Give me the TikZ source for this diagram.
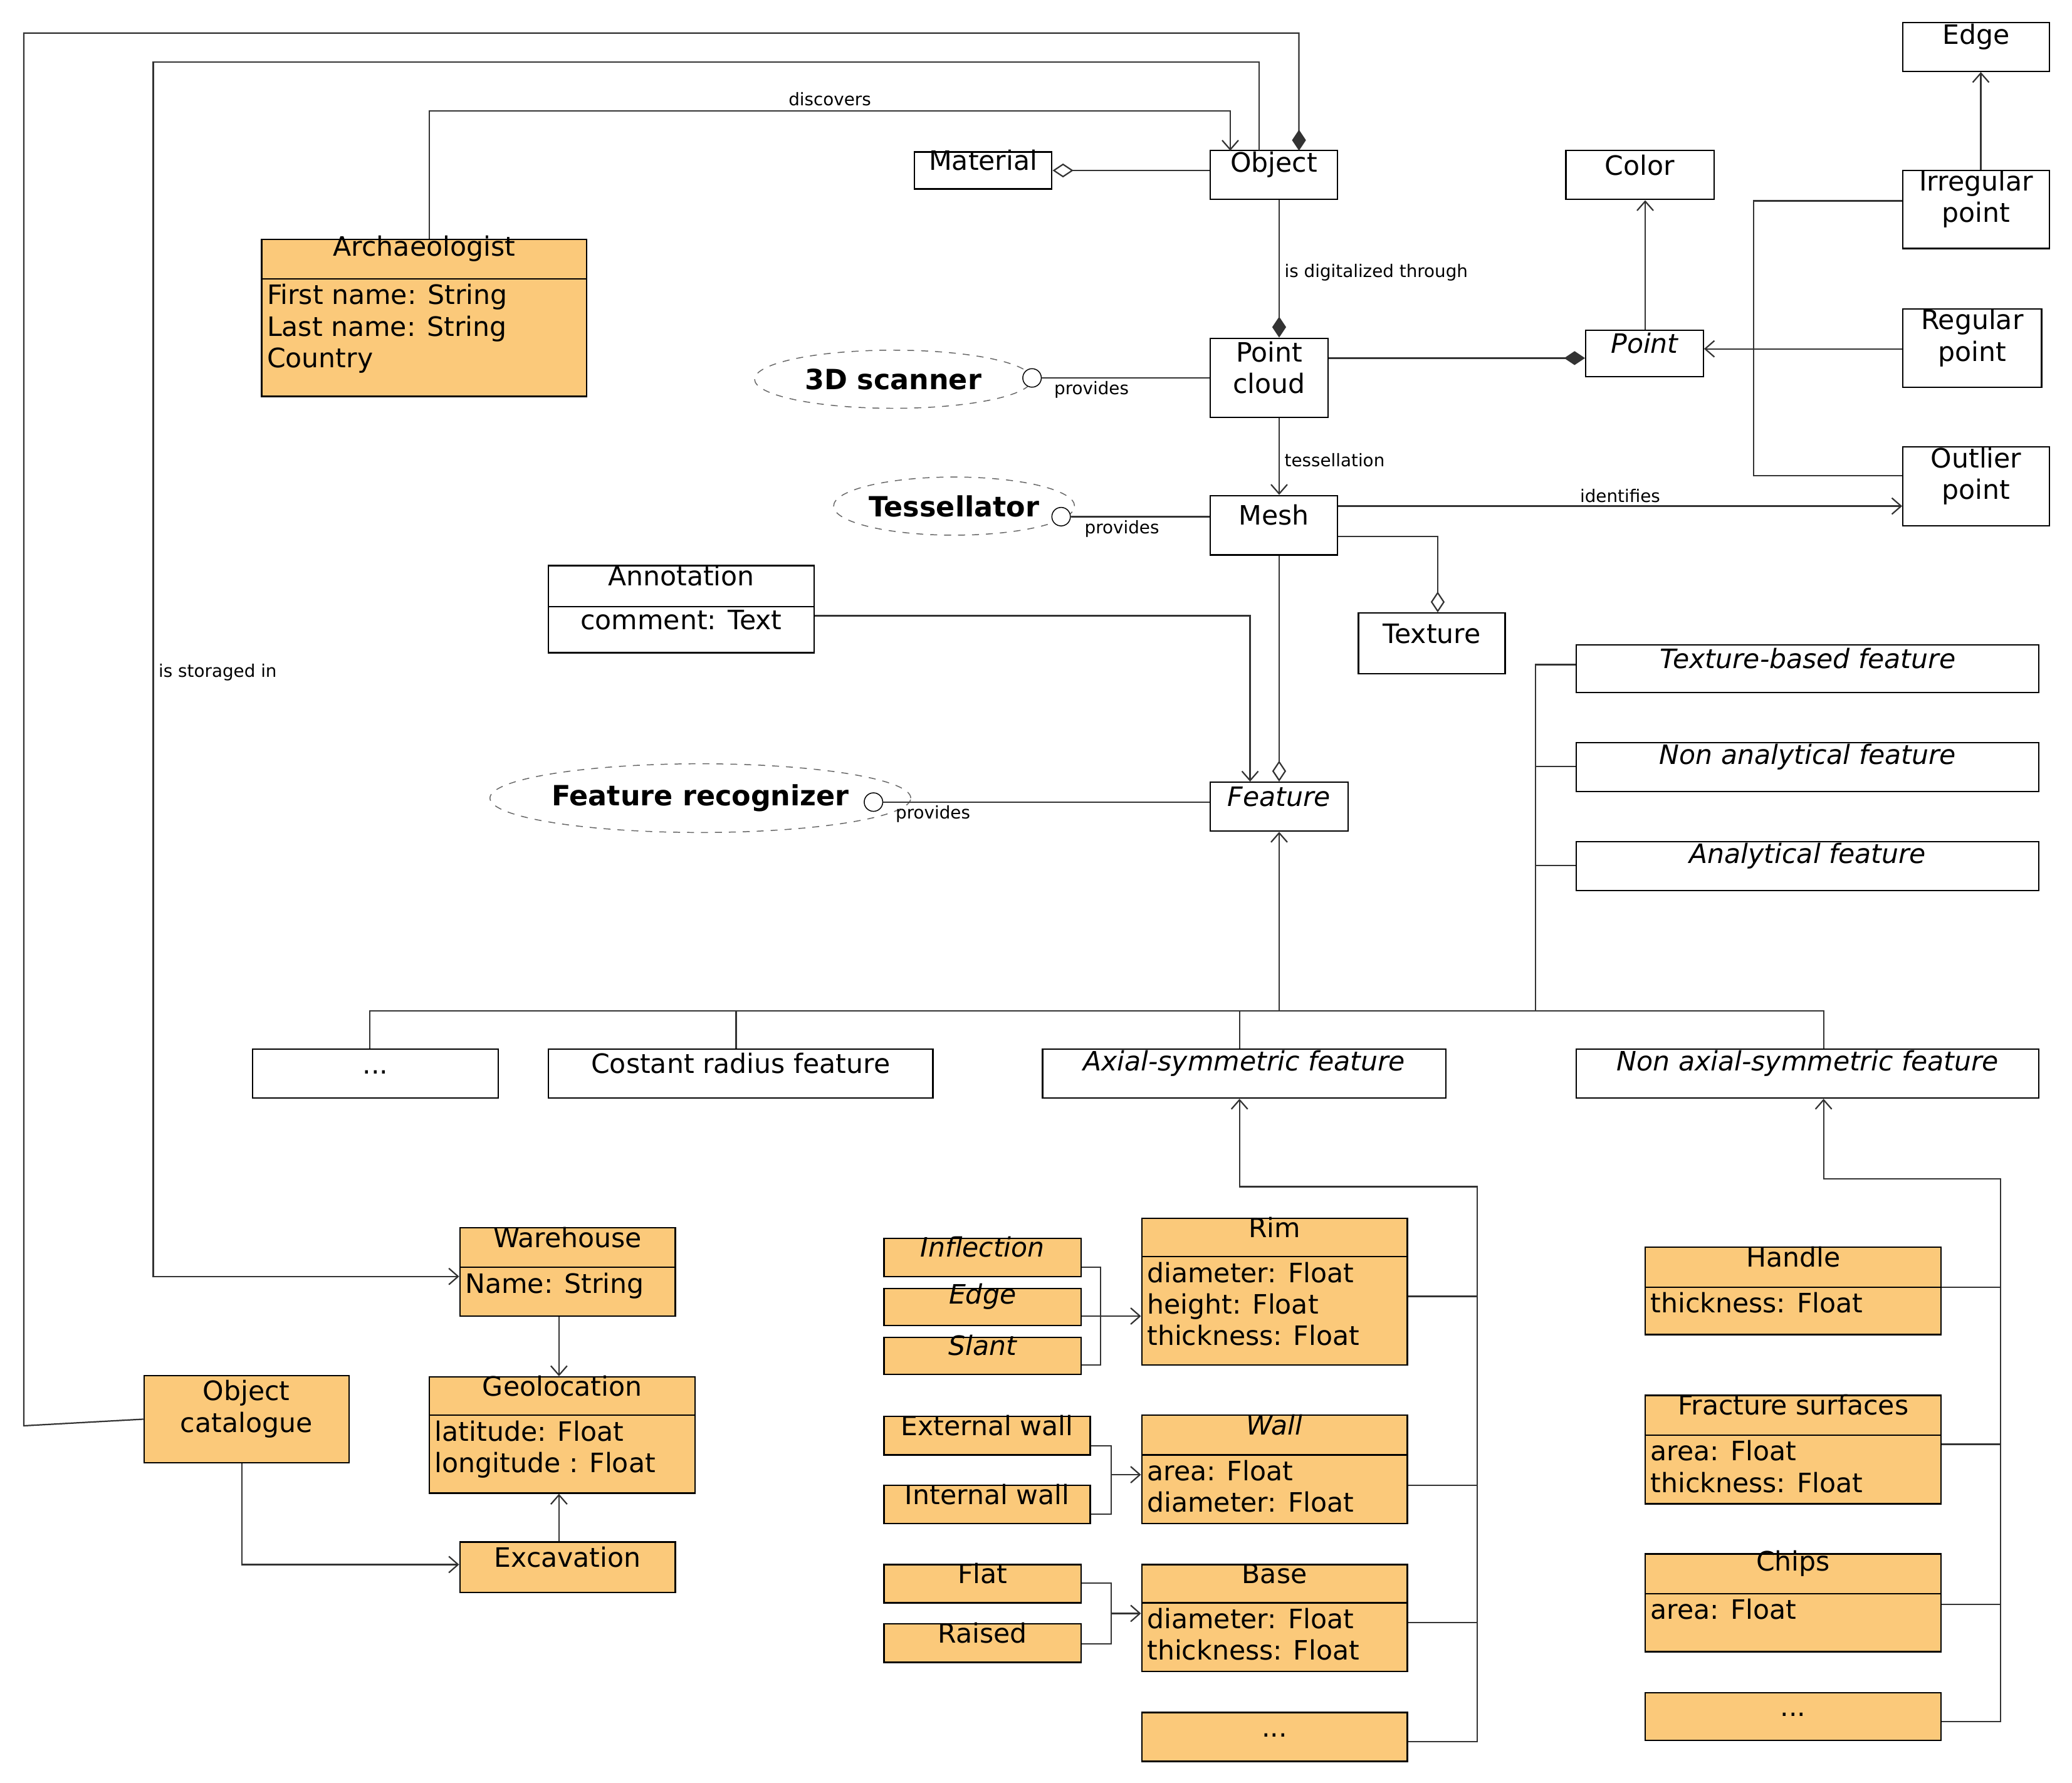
\documentclass[tikz,border=0pt]{standalone}
\usepackage{fontspec}
\setmainfont{DejaVu Sans}
\usetikzlibrary{fit,arrows.meta,calc,shapes.geometric}
\definecolor{org}{RGB}{251,201,122}
\begin{document}
\begin{tikzpicture}[x=0.02cm,y=-0.02cm,
  every node/.style={font=\fontsize{11.5}{13.6}\selectfont},
  b/.style={draw,inner sep=0pt,line width=0.6pt},
  o/.style={b,fill=org},
  body/.style={anchor=north west,align=left,inner sep=1pt},
  lab/.style={font=\fontsize{7.5}{9}\selectfont,inner sep=1pt},
  ln/.style={line width=0.6pt,draw=black!80},
  ar/.style={ln,-{Straight Barb[length=4pt,width=7pt]}},
  fd/.style={ln,-{Diamond[length=9pt,width=6pt]}},
  od/.style={ln,-{Diamond[open,length=9pt,width=6pt]}},
  ell/.style={ellipse,draw,dashed,draw=black!60,inner sep=0pt,font=\fontsize{12}{14}\selectfont\bfseries},
  lol/.style={circle,draw,inner sep=0pt,minimum size=0.28cm,fill=white}
]
\useasboundingbox (0,0) rectangle (1568,1349);
% top
\node[b,fit={(916,114)(1012,151)}] (obj) {Object};
\node[b,fit={(692,115)(796,143)}] (mat) {Material};
\node[b,fit={(1440,17)(1551,54)}] (edge) {Edge};
\node[b,fit={(1185,114)(1297,151)}] (col) {Color};
\node[b,fit={(1440,129)(1551,188)},align=center] (irr) {Irregular\\point};
\node[b,fit={(1440,234)(1545,293)},align=center] (reg) {Regular\\point};
\node[b,fit={(1440,338)(1551,398)},align=center] (out) {Outlier\\point};
\node[b,fit={(1200,250)(1289,285)},font=\fontsize{11.5}{13.6}\selectfont\itshape] (pt) {Point};
\node[b,fit={(916,256)(1005,316)},align=center] (pc) {Point\\cloud};
\node[b,fit={(916,375)(1012,420)}] (mesh) {Mesh};
\node[b,fit={(1028,464)(1139,510)}] (tex) {Texture};
\node[b,fit={(916,592)(1020,629)},font=\fontsize{11.5}{13.6}\selectfont\itshape] (feat) {Feature};
\node[b,fit={(415,428)(616,459)}] (ann) {Annotation};
\node[b,fit={(415,459)(616,494)}] (annb) {comment: Text};
\begin{scope}[every node/.append style={font=\fontsize{11.5}{13.6}\selectfont\itshape}]
\node[b,fit={(1193,488)(1543,524)}] (tbf) {Texture-based feature};
\node[b,fit={(1193,562)(1543,599)}] (naf) {Non analytical feature};
\node[b,fit={(1193,637)(1543,674)}] (af) {Analytical feature};
\node[b,fit={(789,794)(1094,831)}] (axf) {Axial-symmetric feature};
\node[b,fit={(1193,794)(1543,831)}] (naxf) {Non axial-symmetric feature};
\end{scope}
\node[b,fit={(191,794)(377,831)}] (dots1) {...};
\node[b,fit={(415,794)(706,831)}] (crf) {Costant radius feature};
% ellipses
\node[ell,minimum width=4.2cm,minimum height=0.88cm] (scan) at (676,287) {3D scanner};
\node[ell,minimum width=3.3cm,minimum height=0.88cm] (tess) at (722,383) {Tessellator};
\node[ell,minimum width=5.2cm,minimum height=1.04cm] (frec) at (530,604) {Feature recognizer};
% archaeologist
\node[o,fit={(198,181)(444,211)}] (arch) {Archaeologist};
\node[o,fit={(198,211)(444,300)}] (archb) {};
\node[body] at (200,213) {First name: String\\Last name: String\\Country};
% bottom left
\node[o,fit={(348,929)(511,959)}] (wh) {Warehouse};
\node[o,fit={(348,959)(511,996)}] (whb) {};
\node[body] at (350,961) {Name: String};
\node[o,fit={(109,1041)(264,1107)},align=center] (cat) {Object\\catalogue};
\node[o,fit={(325,1042)(526,1071)}] (geo) {Geolocation};
\node[o,fit={(325,1071)(526,1130)}] (geob) {};
\node[body] at (327,1073) {latitude: Float\\longitude : Float};
\node[o,fit={(348,1167)(511,1205)}] (exc) {Excavation};
% middle bottom
\begin{scope}[every node/.append style={font=\fontsize{11.5}{13.6}\selectfont\itshape}]
\node[o,fit={(669,937)(818,966)}] (infl) {Inflection};
\node[o,fit={(669,975)(818,1003)}] (edg) {Edge};
\node[o,fit={(669,1012)(818,1040)}] (sla) {Slant};
\node[o,fit={(864,1071)(1065,1101)}] (wall) {Wall};
\end{scope}
\node[o,fit={(864,922)(1065,951)}] (rim) {Rim};
\node[o,fit={(864,951)(1065,1033)}] (rimb) {};
\node[body] at (866,953) {diameter: Float\\height: Float\\thickness: Float};
\node[o,fit={(669,1072)(825,1101)}] (ext) {External wall};
\node[o,fit={(669,1124)(825,1153)}] (int) {Internal wall};
\node[o,fit={(864,1101)(1065,1153)}] (wallb) {};
\node[body] at (866,1103) {area: Float\\diameter: Float};
\node[o,fit={(669,1184)(818,1213)}] (flat) {Flat};
\node[o,fit={(669,1229)(818,1258)}] (rai) {Raised};
\node[o,fit={(864,1184)(1065,1213)}] (base) {Base};
\node[o,fit={(864,1213)(1065,1265)}] (baseb) {};
\node[body] at (866,1215) {diameter: Float\\thickness: Float};
\node[o,fit={(864,1296)(1065,1333)}] (dots2) {...};
% right bottom
\node[o,fit={(1245,944)(1469,974)}] (han) {Handle};
\node[o,fit={(1245,974)(1469,1010)}] (hanb) {};
\node[body] at (1247,976) {thickness: Float};
\node[o,fit={(1245,1056)(1469,1086)}] (fra) {Fracture surfaces};
\node[o,fit={(1245,1086)(1469,1138)}] (frab) {};
\node[body] at (1247,1088) {area: Float\\thickness: Float};
\node[o,fit={(1245,1176)(1469,1206)}] (chi) {Chips};
\node[o,fit={(1245,1206)(1469,1250)}] (chib) {};
\node[body] at (1247,1208) {area: Float};
\node[o,fit={(1245,1281)(1469,1317)}] (dots3) {...};
% lollipops
\node[lol] (l1) at (781,286) {};
\node[lol] (l2) at (803,391) {};
\node[lol] (l3) at (661,607) {};
% connectors
\draw[fd] (cat.west) -- (18,1079) -- (18,25) -- (983,25) -- (983,114);
\draw[ar] (953,114) -- (953,47) -- (116,47) -- (116,966) -- (whb.west |- 0,966);
\node[lab,anchor=west] at (118,509) {is storaged in};
\draw[ar] (arch.north -| 325,0) -- (325,84) -- (931,84) -- (931,114);
\node[lab] at (628,75) {discovers};
\draw[od] (obj.west |- 0,129) -- (mat.east |- 0,129);
\draw[fd] (obj.south -| 968,0) -- (pc.north -| 968,0);
\node[lab,anchor=west] at (970,206) {is digitalized through};
\draw[fd] (pc.east |- 0,271) -- (pt.west |- 0,271);
\draw[ar] (pt.north -| 1245,0) -- (col.south -| 1245,0);
\draw[ar] (irr.north -| 1499,0) -- (edge.south -| 1499,0);
\draw[ln] (irr.west |- 0,152) -- (1327,152) -- (1327,360) -- (out.west |- 0,360);
\draw[ar] (reg.west |- 0,264) -- (pt.east |- 0,264);
\draw[ar] (pc.south -| 968,0) -- (mesh.north -| 968,0);
\node[lab,anchor=west] at (970,348) {tessellation};
\draw[ar] (mesh.east |- 0,383) -- (out.west |- 0,383);
\node[lab] at (1226,375) {identifies};
\draw[od] (mesh.east |- 0,406) -- (1088,406) -- (tex.north -| 1088,0);
\draw[od] (mesh.south -| 968,0) -- (feat.north -| 968,0);
\draw[ar] (annb.east |- 0,466) -- (946,466) -- (feat.north -| 946,0);
\draw[ln] (l1) -- (pc.west |- l1);
\node[lab] at (826,295) {provides};
\draw[ln] (l2) -- (mesh.west |- l2);
\node[lab] at (849,400) {provides};
\draw[ln] (l3) -- (feat.west |- l3);
\node[lab] at (706,616) {provides};
% generalization tree
\draw[ar] (968,765) -- (feat.south -| 968,0);
\draw[ln] (dots1.north -| 280,0) -- (280,765) -- (1380,765) -- (naxf.north -| 1380,0);
\draw[ln] (crf.north -| 557,0) -- (557,765);
\draw[ln] (axf.north -| 938,0) -- (938,765);
\draw[ln] (1162,765) -- (1162,503) -- (tbf.west |- 0,503);
\draw[ln] (1162,580) -- (naf.west |- 0,580);
\draw[ln] (1162,655) -- (af.west |- 0,655);
% axial
\draw[ar] (dots2.east |- 0,1318) -- (1118,1318) -- (1118,898) -- (938,898) -- (axf.south -| 938,0);
\draw[ln] (rimb.east |- 0,981) -- (1118,981);
\draw[ln] (wallb.east |- 0,1124) -- (1118,1124);
\draw[ln] (baseb.east |- 0,1228) -- (1118,1228);
% non axial
\draw[ar] (dots3.east |- 0,1303) -- (1514,1303) -- (1514,892) -- (1380,892) -- (naxf.south -| 1380,0);
\draw[ln] (han.east |- 0,974) -- (1514,974);
\draw[ln] (frab.east |- 0,1093) -- (1514,1093);
\draw[ln] (chib.east |- 0,1214) -- (1514,1214);
% brackets
\draw[ln] (infl.east |- 0,959) -- (833,959) -- (833,1033) -- (sla.east |- 0,1033);
\draw[ar] (edg.east |- 0,996) -- (rimb.west |- 0,996);
\draw[ln] (ext.east |- 0,1094) -- (841,1094) -- (841,1146) -- (int.east |- 0,1146);
\draw[ar] (841,1116) -- (wallb.west |- 0,1116);
\draw[ln] (flat.east |- 0,1198) -- (841,1198) -- (841,1244) -- (rai.east |- 0,1244);
\draw[ar] (841,1221) -- (baseb.west |- 0,1221);
% bottom left
\draw[ar] (whb.south -| 423,0) -- (geo.north -| 423,0);
\draw[ar] (exc.north -| 423,0) -- (geob.south -| 423,0);
\draw[ar] (cat.south -| 183,0) -- (183,1184) -- (exc.west |- 0,1184);
\end{tikzpicture}
\end{document}
